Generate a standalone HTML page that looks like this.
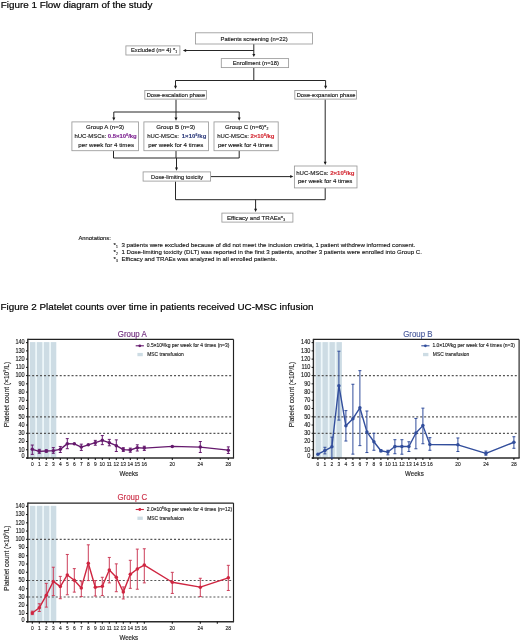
<!DOCTYPE html>
<html><head><meta charset="utf-8"><style>
html,body{margin:0;padding:0;background:#fff;}
body{width:520px;height:642px;overflow:hidden;}
svg{display:block;font-family:"Liberation Sans", sans-serif;filter:blur(0.35px);}
</style></head><body>
<svg width="520" height="642" viewBox="0 0 520 642">
<text x="0.8" y="8.4" font-size="9.85" fill="#000" stroke="#000" stroke-width="0.2">Figure 1 Flow diagram of the study</text>
<line x1="253.8" y1="44" x2="253.8" y2="55" stroke="#262626" stroke-width="1.0"/>
<path d="M252.3,53.9 L255.3,53.9 L253.8,57.1 Z" fill="#1a1a1a"/>
<line x1="253.8" y1="50.5" x2="185" y2="50.5" stroke="#262626" stroke-width="1.0"/>
<path d="M186.1,49.0 L186.1,52.0 L182.9,50.5 Z" fill="#1a1a1a"/>
<line x1="253.8" y1="68" x2="253.8" y2="80.5" stroke="#262626" stroke-width="1.0"/>
<line x1="175.5" y1="80.5" x2="325.6" y2="80.5" stroke="#262626" stroke-width="1.0"/>
<line x1="175.5" y1="80.5" x2="175.5" y2="87" stroke="#262626" stroke-width="1.0"/>
<path d="M174.0,85.7 L177.0,85.7 L175.5,88.9 Z" fill="#1a1a1a"/>
<line x1="325.6" y1="80.5" x2="325.6" y2="87" stroke="#262626" stroke-width="1.0"/>
<path d="M324.1,85.7 L327.1,85.7 L325.6,88.9 Z" fill="#1a1a1a"/>
<line x1="176" y1="99.5" x2="176" y2="112" stroke="#262626" stroke-width="1.0"/>
<line x1="113.8" y1="112" x2="239.2" y2="112" stroke="#262626" stroke-width="1.0"/>
<line x1="113.8" y1="112" x2="113.8" y2="119" stroke="#262626" stroke-width="1.0"/>
<path d="M112.3,117.5 L115.3,117.5 L113.8,120.7 Z" fill="#1a1a1a"/>
<line x1="176" y1="112" x2="176" y2="119" stroke="#262626" stroke-width="1.0"/>
<path d="M174.5,117.5 L177.5,117.5 L176,120.7 Z" fill="#1a1a1a"/>
<line x1="239.2" y1="112" x2="239.2" y2="119" stroke="#262626" stroke-width="1.0"/>
<path d="M237.7,117.5 L240.7,117.5 L239.2,120.7 Z" fill="#1a1a1a"/>
<line x1="113.5" y1="151" x2="113.5" y2="158" stroke="#262626" stroke-width="1.0"/>
<line x1="176" y1="151" x2="176" y2="158" stroke="#262626" stroke-width="1.0"/>
<line x1="239.2" y1="151" x2="239.2" y2="158" stroke="#262626" stroke-width="1.0"/>
<line x1="113.5" y1="158" x2="239.2" y2="158" stroke="#262626" stroke-width="1.0"/>
<line x1="176.5" y1="158" x2="176.5" y2="169" stroke="#262626" stroke-width="1.0"/>
<path d="M175.0,167.50000000000003 L178.0,167.50000000000003 L176.5,170.70000000000002 Z" fill="#1a1a1a"/>
<line x1="211" y1="176.6" x2="291" y2="176.6" stroke="#262626" stroke-width="1.0"/>
<path d="M290.2,175.1 L290.2,178.1 L293.4,176.6 Z" fill="#1a1a1a"/>
<line x1="325.2" y1="99.5" x2="325.2" y2="163" stroke="#262626" stroke-width="1.0"/>
<path d="M323.7,161.70000000000002 L326.7,161.70000000000002 L325.2,164.9 Z" fill="#1a1a1a"/>
<line x1="175.5" y1="181.5" x2="175.5" y2="199.7" stroke="#262626" stroke-width="1.0"/>
<line x1="325.2" y1="188" x2="325.2" y2="199.7" stroke="#262626" stroke-width="1.0"/>
<line x1="175.5" y1="199.7" x2="325.2" y2="199.7" stroke="#262626" stroke-width="1.0"/>
<line x1="255.6" y1="199.7" x2="255.6" y2="210" stroke="#262626" stroke-width="1.0"/>
<path d="M254.1,208.70000000000002 L257.1,208.70000000000002 L255.6,211.9 Z" fill="#1a1a1a"/>
<rect x="195.5" y="32.8" width="117" height="11.2" fill="#fff" stroke="#9a9a9a" stroke-width="0.85"/>
<text x="220.5" y="40.5" font-size="5.88" fill="#161616" letter-spacing="0.001" stroke="#161616" stroke-width="0.14">Patients screening (n=22)</text>
<rect x="125.9" y="45.9" width="54.0" height="9.1" fill="#fff" stroke="#9a9a9a" stroke-width="0.85"/>
<text x="131" y="52.2" font-size="5.76" fill="#161616" stroke="#161616" stroke-width="0.14">Excluded (n= 4) *<tspan font-size="3.4" dy="0.8">1</tspan></text>
<rect x="221.3" y="58.6" width="67.3" height="9.0" fill="#fff" stroke="#9a9a9a" stroke-width="0.85"/>
<text x="232.7" y="65.4" font-size="5.8" fill="#161616" letter-spacing="0.002" stroke="#161616" stroke-width="0.14">Enrollment (n=18)</text>
<rect x="144.8" y="90.5" width="61.6" height="8.6" fill="#fff" stroke="#9a9a9a" stroke-width="0.85"/>
<text x="146.7" y="97.1" font-size="5.75" fill="#161616" letter-spacing="0.000" stroke="#161616" stroke-width="0.14">Dose-escalation phase</text>
<rect x="294.8" y="90.5" width="61.6" height="8.6" fill="#fff" stroke="#9a9a9a" stroke-width="0.85"/>
<text x="296.7" y="97.1" font-size="5.75" fill="#161616" letter-spacing="-0.001" stroke="#161616" stroke-width="0.14">Dose-expansion phase</text>
<rect x="71.9" y="121.9" width="66.6" height="28.8" fill="#fff" stroke="#9a9a9a" stroke-width="0.85"/>
<text x="86" y="128.8" font-size="6.1" fill="#161616" stroke="#161616" stroke-width="0.14">Group A (n=3)</text>
<text x="74.5" y="138.1" font-size="5.95" fill="#161616" stroke="#161616" stroke-width="0.14">hUC-MSCs: <tspan dx="0" letter-spacing="0" fill="#7f2592" stroke="#7f2592" font-weight="bold">0.5×10<tspan font-size="3.6" dy="-2.0">6</tspan><tspan dy="2.0">/kg</tspan></tspan></text>
<text x="78.3" y="147.2" font-size="6.1" fill="#161616" letter-spacing="0.041" stroke="#161616" stroke-width="0.14">per week for 4 times</text>
<rect x="143.9" y="121.9" width="64.6" height="28.8" fill="#fff" stroke="#9a9a9a" stroke-width="0.85"/>
<text x="156.3" y="128.8" font-size="6.1" fill="#161616" stroke="#161616" stroke-width="0.14">Group B (n=3)</text>
<text x="147.2" y="138.1" font-size="5.95" fill="#161616" stroke="#161616" stroke-width="0.14">hUC-MSCs: <tspan dx="1.2" letter-spacing="0.1" fill="#303d7c" stroke="#303d7c" font-weight="bold">1×10<tspan font-size="3.6" dy="-2.0">6</tspan><tspan dy="2.0">/kg</tspan></tspan></text>
<text x="148.3" y="147.2" font-size="6.1" fill="#161616" letter-spacing="0.004" stroke="#161616" stroke-width="0.14">per week for 4 times</text>
<rect x="214.0" y="121.9" width="64.2" height="28.8" fill="#fff" stroke="#9a9a9a" stroke-width="0.85"/>
<text x="225" y="128.8" font-size="6.1" fill="#161616" stroke="#161616" stroke-width="0.14">Group C (n=6)*<tspan font-size="3.4" dy="0.8">2</tspan></text>
<text x="217.2" y="138.1" font-size="5.95" fill="#161616" stroke="#161616" stroke-width="0.14">hUC-MSCs: <tspan dx="0" letter-spacing="0" fill="#d42b35" stroke="#d42b35" font-weight="bold">2×10<tspan font-size="3.6" dy="-2.0">6</tspan><tspan dy="2.0">/kg</tspan></tspan></text>
<text x="217.9" y="147.2" font-size="6.1" fill="#161616" letter-spacing="-0.012" stroke="#161616" stroke-width="0.14">per week for 4 times</text>
<rect x="143.1" y="171.9" width="67.5" height="9.2" fill="#fff" stroke="#9a9a9a" stroke-width="0.85"/>
<text x="151.1" y="178.8" font-size="5.72" fill="#161616" letter-spacing="-0.001" stroke="#161616" stroke-width="0.14">Dose-limiting toxicity</text>
<rect x="294.4" y="166.0" width="62.6" height="21.9" fill="#fff" stroke="#9a9a9a" stroke-width="0.85"/>
<text x="296.2" y="174.8" font-size="6.05" fill="#161616" stroke="#161616" stroke-width="0.14">hUC-MSCs: <tspan fill="#d42b35" stroke="#d42b35" font-weight="bold">2×10<tspan font-size="3.6" dy="-2.0">6</tspan><tspan dy="2.0">/kg</tspan></tspan></text>
<text x="298" y="183.1" font-size="6.06" fill="#161616" letter-spacing="-0.003" stroke="#161616" stroke-width="0.14">per week for 4 times</text>
<rect x="221.9" y="213.1" width="71.0" height="9.0" fill="#fff" stroke="#9a9a9a" stroke-width="0.85"/>
<text x="226.9" y="219.8" font-size="6.1" fill="#161616" stroke="#161616" stroke-width="0.14">Efficacy and TRAEs*<tspan font-size="3.4" dy="0.8">3</tspan></text>
<text x="78.4" y="240.1" font-size="5.85" fill="#161616" stroke="#161616" stroke-width="0.14">Annotations:</text>
<text x="113.6" y="247.4" font-size="6.14" fill="#161616" stroke="#161616" stroke-width="0.14">*<tspan font-size="3.3" dy="0.7">1</tspan></text>
<text x="121.4" y="247.4" font-size="6.14" fill="#161616" stroke="#161616" stroke-width="0.14">3 patients were excluded because of did not meet the inclusion cretiria, 1 patient withdrew informed consent.</text>
<text x="113.6" y="254.35" font-size="6.14" fill="#161616" stroke="#161616" stroke-width="0.14">*<tspan font-size="3.3" dy="0.7">2</tspan></text>
<text x="121.4" y="254.35" font-size="6.14" fill="#161616" stroke="#161616" stroke-width="0.14">1 Dose-limiting toxicity (DLT) was reported in the first 3 patients, another 3 patients were enrolled into Group C.</text>
<text x="113.6" y="261.3" font-size="6.14" fill="#161616" stroke="#161616" stroke-width="0.14">*<tspan font-size="3.3" dy="0.7">3</tspan></text>
<text x="121.4" y="261.3" font-size="6.14" fill="#161616" stroke="#161616" stroke-width="0.14">Efficacy and TRAEs was analyzed in all enrolled patients.</text>
<text x="0.6" y="310.1" font-size="9.85" fill="#000" stroke="#000" stroke-width="0.2">Figure 2 Platelet counts over time in patients received UC-MSC infusion</text>
<rect x="30.0" y="342.14" width="26.3" height="115.86" fill="#eef7fa" stroke="none" stroke-width="1"/>
<rect x="29.95" y="342.14" width="5.3" height="115.86" fill="#cddce4" stroke="none" stroke-width="1"/>
<rect x="36.95" y="342.14" width="5.3" height="115.86" fill="#cddce4" stroke="none" stroke-width="1"/>
<rect x="43.95" y="342.14" width="5.3" height="115.86" fill="#cddce4" stroke="none" stroke-width="1"/>
<rect x="50.95" y="342.14" width="5.3" height="115.86" fill="#cddce4" stroke="none" stroke-width="1"/>
<line x1="28.2" y1="375.6" x2="231.3" y2="375.6" stroke="#565656" stroke-width="1.2" stroke-dasharray="2.0 1.941"/>
<line x1="28.2" y1="416.8" x2="231.3" y2="416.8" stroke="#565656" stroke-width="1.2" stroke-dasharray="2.0 1.941"/>
<line x1="28.2" y1="433.28" x2="231.3" y2="433.28" stroke="#565656" stroke-width="1.2" stroke-dasharray="2.0 1.941"/>
<line x1="27.8" y1="339.4" x2="233.5" y2="339.4" stroke="#222" stroke-width="1.15"/>
<line x1="233.5" y1="339.4" x2="233.5" y2="458.1" stroke="#222" stroke-width="1.15"/>
<line x1="27.8" y1="338.85" x2="27.8" y2="458.8" stroke="#2a2a2a" stroke-width="1.4"/>
<line x1="26.3" y1="458.1" x2="234.05" y2="458.1" stroke="#2a2a2a" stroke-width="1.5"/>
<line x1="26.0" y1="458.0" x2="27.8" y2="458.0" stroke="#111" stroke-width="1.0"/>
<text transform="translate(24.7,458.35) scale(0.88,1.0)" font-size="6.3" fill="#222" text-anchor="end" stroke="#222" stroke-width="0.14">0</text>
<line x1="26.0" y1="449.76" x2="27.8" y2="449.76" stroke="#111" stroke-width="1.0"/>
<text transform="translate(24.7,451.56) scale(0.88,1.0)" font-size="6.3" fill="#222" text-anchor="end" stroke="#222" stroke-width="0.14">10</text>
<line x1="26.0" y1="441.52" x2="27.8" y2="441.52" stroke="#111" stroke-width="1.0"/>
<text transform="translate(24.7,443.32) scale(0.88,1.0)" font-size="6.3" fill="#222" text-anchor="end" stroke="#222" stroke-width="0.14">20</text>
<line x1="26.0" y1="433.28" x2="27.8" y2="433.28" stroke="#111" stroke-width="1.0"/>
<text transform="translate(24.7,435.08) scale(0.88,1.0)" font-size="6.3" fill="#222" text-anchor="end" stroke="#222" stroke-width="0.14">30</text>
<line x1="26.0" y1="425.04" x2="27.8" y2="425.04" stroke="#111" stroke-width="1.0"/>
<text transform="translate(24.7,426.84) scale(0.88,1.0)" font-size="6.3" fill="#222" text-anchor="end" stroke="#222" stroke-width="0.14">40</text>
<line x1="26.0" y1="416.8" x2="27.8" y2="416.8" stroke="#111" stroke-width="1.0"/>
<text transform="translate(24.7,418.6) scale(0.88,1.0)" font-size="6.3" fill="#222" text-anchor="end" stroke="#222" stroke-width="0.14">50</text>
<line x1="26.0" y1="408.56" x2="27.8" y2="408.56" stroke="#111" stroke-width="1.0"/>
<text transform="translate(24.7,410.36) scale(0.88,1.0)" font-size="6.3" fill="#222" text-anchor="end" stroke="#222" stroke-width="0.14">60</text>
<line x1="26.0" y1="400.32" x2="27.8" y2="400.32" stroke="#111" stroke-width="1.0"/>
<text transform="translate(24.7,402.12) scale(0.88,1.0)" font-size="6.3" fill="#222" text-anchor="end" stroke="#222" stroke-width="0.14">70</text>
<line x1="26.0" y1="392.08" x2="27.8" y2="392.08" stroke="#111" stroke-width="1.0"/>
<text transform="translate(24.7,393.88) scale(0.88,1.0)" font-size="6.3" fill="#222" text-anchor="end" stroke="#222" stroke-width="0.14">80</text>
<line x1="26.0" y1="383.84" x2="27.8" y2="383.84" stroke="#111" stroke-width="1.0"/>
<text transform="translate(24.7,385.64) scale(0.88,1.0)" font-size="6.3" fill="#222" text-anchor="end" stroke="#222" stroke-width="0.14">90</text>
<line x1="26.0" y1="375.6" x2="27.8" y2="375.6" stroke="#111" stroke-width="1.0"/>
<text transform="translate(24.7,377.4) scale(0.88,1.0)" font-size="6.3" fill="#222" text-anchor="end" stroke="#222" stroke-width="0.14">100</text>
<line x1="26.0" y1="367.36" x2="27.8" y2="367.36" stroke="#111" stroke-width="1.0"/>
<text transform="translate(24.7,369.16) scale(0.88,1.0)" font-size="6.3" fill="#222" text-anchor="end" stroke="#222" stroke-width="0.14">110</text>
<line x1="26.0" y1="359.12" x2="27.8" y2="359.12" stroke="#111" stroke-width="1.0"/>
<text transform="translate(24.7,360.92) scale(0.88,1.0)" font-size="6.3" fill="#222" text-anchor="end" stroke="#222" stroke-width="0.14">120</text>
<line x1="26.0" y1="350.88" x2="27.8" y2="350.88" stroke="#111" stroke-width="1.0"/>
<text transform="translate(24.7,352.68) scale(0.88,1.0)" font-size="6.3" fill="#222" text-anchor="end" stroke="#222" stroke-width="0.14">130</text>
<line x1="26.0" y1="342.64" x2="27.8" y2="342.64" stroke="#111" stroke-width="1.0"/>
<text transform="translate(24.7,344.44) scale(0.88,1.0)" font-size="6.3" fill="#222" text-anchor="end" stroke="#222" stroke-width="0.14">140</text>
<line x1="32.3" y1="458.1" x2="32.3" y2="460.1" stroke="#111" stroke-width="1.05"/>
<text transform="translate(32.3,466.0) scale(0.8,1.0)" font-size="6.1" fill="#222" text-anchor="middle" stroke="#222" stroke-width="0.14">0</text>
<line x1="39.3" y1="458.1" x2="39.3" y2="460.1" stroke="#111" stroke-width="1.05"/>
<text transform="translate(39.3,466.0) scale(0.8,1.0)" font-size="6.1" fill="#222" text-anchor="middle" stroke="#222" stroke-width="0.14">1</text>
<line x1="46.3" y1="458.1" x2="46.3" y2="460.1" stroke="#111" stroke-width="1.05"/>
<text transform="translate(46.3,466.0) scale(0.8,1.0)" font-size="6.1" fill="#222" text-anchor="middle" stroke="#222" stroke-width="0.14">2</text>
<line x1="53.3" y1="458.1" x2="53.3" y2="460.1" stroke="#111" stroke-width="1.05"/>
<text transform="translate(53.3,466.0) scale(0.8,1.0)" font-size="6.1" fill="#222" text-anchor="middle" stroke="#222" stroke-width="0.14">3</text>
<line x1="60.3" y1="458.1" x2="60.3" y2="460.1" stroke="#111" stroke-width="1.05"/>
<text transform="translate(60.3,466.0) scale(0.8,1.0)" font-size="6.1" fill="#222" text-anchor="middle" stroke="#222" stroke-width="0.14">4</text>
<line x1="67.3" y1="458.1" x2="67.3" y2="460.1" stroke="#111" stroke-width="1.05"/>
<text transform="translate(67.3,466.0) scale(0.8,1.0)" font-size="6.1" fill="#222" text-anchor="middle" stroke="#222" stroke-width="0.14">5</text>
<line x1="74.3" y1="458.1" x2="74.3" y2="460.1" stroke="#111" stroke-width="1.05"/>
<text transform="translate(74.3,466.0) scale(0.8,1.0)" font-size="6.1" fill="#222" text-anchor="middle" stroke="#222" stroke-width="0.14">6</text>
<line x1="81.3" y1="458.1" x2="81.3" y2="460.1" stroke="#111" stroke-width="1.05"/>
<text transform="translate(81.3,466.0) scale(0.8,1.0)" font-size="6.1" fill="#222" text-anchor="middle" stroke="#222" stroke-width="0.14">7</text>
<line x1="88.3" y1="458.1" x2="88.3" y2="460.1" stroke="#111" stroke-width="1.05"/>
<text transform="translate(88.3,466.0) scale(0.8,1.0)" font-size="6.1" fill="#222" text-anchor="middle" stroke="#222" stroke-width="0.14">8</text>
<line x1="95.3" y1="458.1" x2="95.3" y2="460.1" stroke="#111" stroke-width="1.05"/>
<text transform="translate(95.3,466.0) scale(0.8,1.0)" font-size="6.1" fill="#222" text-anchor="middle" stroke="#222" stroke-width="0.14">9</text>
<line x1="102.3" y1="458.1" x2="102.3" y2="460.1" stroke="#111" stroke-width="1.05"/>
<text transform="translate(102.3,466.0) scale(0.8,1.0)" font-size="6.1" fill="#222" text-anchor="middle" stroke="#222" stroke-width="0.14">10</text>
<line x1="109.3" y1="458.1" x2="109.3" y2="460.1" stroke="#111" stroke-width="1.05"/>
<text transform="translate(109.3,466.0) scale(0.8,1.0)" font-size="6.1" fill="#222" text-anchor="middle" stroke="#222" stroke-width="0.14">11</text>
<line x1="116.3" y1="458.1" x2="116.3" y2="460.1" stroke="#111" stroke-width="1.05"/>
<text transform="translate(116.3,466.0) scale(0.8,1.0)" font-size="6.1" fill="#222" text-anchor="middle" stroke="#222" stroke-width="0.14">12</text>
<line x1="123.3" y1="458.1" x2="123.3" y2="460.1" stroke="#111" stroke-width="1.05"/>
<text transform="translate(123.3,466.0) scale(0.8,1.0)" font-size="6.1" fill="#222" text-anchor="middle" stroke="#222" stroke-width="0.14">13</text>
<line x1="130.3" y1="458.1" x2="130.3" y2="460.1" stroke="#111" stroke-width="1.05"/>
<text transform="translate(130.3,466.0) scale(0.8,1.0)" font-size="6.1" fill="#222" text-anchor="middle" stroke="#222" stroke-width="0.14">14</text>
<line x1="137.3" y1="458.1" x2="137.3" y2="460.1" stroke="#111" stroke-width="1.05"/>
<text transform="translate(137.3,466.0) scale(0.8,1.0)" font-size="6.1" fill="#222" text-anchor="middle" stroke="#222" stroke-width="0.14">15</text>
<line x1="144.3" y1="458.1" x2="144.3" y2="460.1" stroke="#111" stroke-width="1.05"/>
<text transform="translate(144.3,466.0) scale(0.8,1.0)" font-size="6.1" fill="#222" text-anchor="middle" stroke="#222" stroke-width="0.14">16</text>
<line x1="172.3" y1="458.1" x2="172.3" y2="460.1" stroke="#111" stroke-width="1.05"/>
<text transform="translate(172.3,466.0) scale(0.8,1.0)" font-size="6.1" fill="#222" text-anchor="middle" stroke="#222" stroke-width="0.14">20</text>
<line x1="200.3" y1="458.1" x2="200.3" y2="460.1" stroke="#111" stroke-width="1.05"/>
<text transform="translate(200.3,466.0) scale(0.8,1.0)" font-size="6.1" fill="#222" text-anchor="middle" stroke="#222" stroke-width="0.14">24</text>
<line x1="228.3" y1="458.1" x2="228.3" y2="460.1" stroke="#111" stroke-width="1.05"/>
<text transform="translate(228.3,466.0) scale(0.8,1.0)" font-size="6.1" fill="#222" text-anchor="middle" stroke="#222" stroke-width="0.14">28</text>
<text transform="translate(128.8,475.8) scale(0.93,1.0)" font-size="6.6" fill="#222" text-anchor="middle" stroke="#222" stroke-width="0.14">Weeks</text>
<text transform="translate(8.7,394.5) rotate(-90) scale(0.95,1)" font-size="7.0" fill="#222" stroke="#222" stroke-width="0.14" text-anchor="middle">Platelet count (×10<tspan font-size="4.2" dy="-2.4">9</tspan><tspan dy="2.4">/L)</tspan></text>
<text transform="translate(132.3,336.6) scale(0.94,1.0)" font-size="8.4" fill="#6e2a7c" text-anchor="middle" stroke="#6e2a7c" stroke-width="0.14">Group A</text>
<line x1="135.7" y1="345.8" x2="143.9" y2="345.8" stroke="#65196d" stroke-width="1.1"/>
<circle cx="139.8" cy="345.8" r="1.4" fill="#65196d"/>
<text transform="translate(146.8,347.3) scale(0.97,1.0)" font-size="5.1" fill="#222" stroke="#222" stroke-width="0.14">0.5×10<tspan font-size="3.3" dy="-1.7">6</tspan><tspan dy="1.7">/kg per week for 4 times (n=3)</tspan></text>
<rect x="137.4" y="352.9" width="5.4" height="3.3" fill="#cddce4" stroke="none" stroke-width="1"/>
<text transform="translate(147.2,355.9) scale(0.97,1.0)" font-size="5.1" fill="#222" stroke="#222" stroke-width="0.14">MSC transfusion</text>
<polyline points="32.3,449.35 39.3,451.33 46.3,451.0 53.3,450.67 60.3,449.35 67.3,443.66 74.3,443.83 81.3,447.12 88.3,444.82 95.3,442.67 102.3,440.37 109.3,442.67 116.3,445.64 123.3,449.6 130.3,450.01 137.3,447.7 144.3,448.11 172.3,446.38 200.3,447.12 228.3,450.17" fill="none" stroke="#65196d" stroke-width="1.4" stroke-linejoin="round"/>
<line x1="32.3" y1="445.06" x2="32.3" y2="454.37" stroke="#65196d" stroke-width="1.0"/>
<line x1="30.8" y1="445.06" x2="33.8" y2="445.06" stroke="#65196d" stroke-width="1.0"/>
<line x1="30.8" y1="454.37" x2="33.8" y2="454.37" stroke="#65196d" stroke-width="1.0"/>
<circle cx="32.3" cy="449.35" r="1.75" fill="#65196d"/>
<line x1="39.3" y1="449.35" x2="39.3" y2="453.3" stroke="#65196d" stroke-width="1.0"/>
<line x1="37.8" y1="449.35" x2="40.8" y2="449.35" stroke="#65196d" stroke-width="1.0"/>
<line x1="37.8" y1="453.3" x2="40.8" y2="453.3" stroke="#65196d" stroke-width="1.0"/>
<circle cx="39.3" cy="451.33" r="1.75" fill="#65196d"/>
<line x1="46.3" y1="449.76" x2="46.3" y2="452.23" stroke="#65196d" stroke-width="1.0"/>
<line x1="44.8" y1="449.76" x2="47.8" y2="449.76" stroke="#65196d" stroke-width="1.0"/>
<line x1="44.8" y1="452.23" x2="47.8" y2="452.23" stroke="#65196d" stroke-width="1.0"/>
<circle cx="46.3" cy="451.0" r="1.75" fill="#65196d"/>
<line x1="53.3" y1="447.62" x2="53.3" y2="453.3" stroke="#65196d" stroke-width="1.0"/>
<line x1="51.8" y1="447.62" x2="54.8" y2="447.62" stroke="#65196d" stroke-width="1.0"/>
<line x1="51.8" y1="453.3" x2="54.8" y2="453.3" stroke="#65196d" stroke-width="1.0"/>
<circle cx="53.3" cy="450.67" r="1.75" fill="#65196d"/>
<line x1="60.3" y1="446.46" x2="60.3" y2="452.48" stroke="#65196d" stroke-width="1.0"/>
<line x1="58.8" y1="446.46" x2="61.8" y2="446.46" stroke="#65196d" stroke-width="1.0"/>
<line x1="58.8" y1="452.48" x2="61.8" y2="452.48" stroke="#65196d" stroke-width="1.0"/>
<circle cx="60.3" cy="449.35" r="1.75" fill="#65196d"/>
<line x1="67.3" y1="438.64" x2="67.3" y2="448.69" stroke="#65196d" stroke-width="1.0"/>
<line x1="65.8" y1="438.64" x2="68.8" y2="438.64" stroke="#65196d" stroke-width="1.0"/>
<line x1="65.8" y1="448.69" x2="68.8" y2="448.69" stroke="#65196d" stroke-width="1.0"/>
<circle cx="67.3" cy="443.66" r="1.75" fill="#65196d"/>
<circle cx="74.3" cy="443.83" r="1.75" fill="#65196d"/>
<line x1="81.3" y1="444.16" x2="81.3" y2="450.42" stroke="#65196d" stroke-width="1.0"/>
<line x1="79.8" y1="444.16" x2="82.8" y2="444.16" stroke="#65196d" stroke-width="1.0"/>
<line x1="79.8" y1="450.42" x2="82.8" y2="450.42" stroke="#65196d" stroke-width="1.0"/>
<circle cx="81.3" cy="447.12" r="1.75" fill="#65196d"/>
<circle cx="88.3" cy="444.82" r="1.75" fill="#65196d"/>
<line x1="95.3" y1="440.37" x2="95.3" y2="445.23" stroke="#65196d" stroke-width="1.0"/>
<line x1="93.8" y1="440.37" x2="96.8" y2="440.37" stroke="#65196d" stroke-width="1.0"/>
<line x1="93.8" y1="445.23" x2="96.8" y2="445.23" stroke="#65196d" stroke-width="1.0"/>
<circle cx="95.3" cy="442.67" r="1.75" fill="#65196d"/>
<line x1="102.3" y1="435.59" x2="102.3" y2="444.65" stroke="#65196d" stroke-width="1.0"/>
<line x1="100.8" y1="435.59" x2="103.8" y2="435.59" stroke="#65196d" stroke-width="1.0"/>
<line x1="100.8" y1="444.65" x2="103.8" y2="444.65" stroke="#65196d" stroke-width="1.0"/>
<circle cx="102.3" cy="440.37" r="1.75" fill="#65196d"/>
<line x1="109.3" y1="439.38" x2="109.3" y2="445.8" stroke="#65196d" stroke-width="1.0"/>
<line x1="107.8" y1="439.38" x2="110.8" y2="439.38" stroke="#65196d" stroke-width="1.0"/>
<line x1="107.8" y1="445.8" x2="110.8" y2="445.8" stroke="#65196d" stroke-width="1.0"/>
<circle cx="109.3" cy="442.67" r="1.75" fill="#65196d"/>
<line x1="116.3" y1="439.87" x2="116.3" y2="451.49" stroke="#65196d" stroke-width="1.0"/>
<line x1="114.8" y1="439.87" x2="117.8" y2="439.87" stroke="#65196d" stroke-width="1.0"/>
<line x1="114.8" y1="451.49" x2="117.8" y2="451.49" stroke="#65196d" stroke-width="1.0"/>
<circle cx="116.3" cy="445.64" r="1.75" fill="#65196d"/>
<line x1="123.3" y1="447.7" x2="123.3" y2="451.41" stroke="#65196d" stroke-width="1.0"/>
<line x1="121.8" y1="447.7" x2="124.8" y2="447.7" stroke="#65196d" stroke-width="1.0"/>
<line x1="121.8" y1="451.41" x2="124.8" y2="451.41" stroke="#65196d" stroke-width="1.0"/>
<circle cx="123.3" cy="449.6" r="1.75" fill="#65196d"/>
<line x1="130.3" y1="448.11" x2="130.3" y2="452.23" stroke="#65196d" stroke-width="1.0"/>
<line x1="128.8" y1="448.11" x2="131.8" y2="448.11" stroke="#65196d" stroke-width="1.0"/>
<line x1="128.8" y1="452.23" x2="131.8" y2="452.23" stroke="#65196d" stroke-width="1.0"/>
<circle cx="130.3" cy="450.01" r="1.75" fill="#65196d"/>
<line x1="137.3" y1="444.82" x2="137.3" y2="451.0" stroke="#65196d" stroke-width="1.0"/>
<line x1="135.8" y1="444.82" x2="138.8" y2="444.82" stroke="#65196d" stroke-width="1.0"/>
<line x1="135.8" y1="451.0" x2="138.8" y2="451.0" stroke="#65196d" stroke-width="1.0"/>
<circle cx="137.3" cy="447.7" r="1.75" fill="#65196d"/>
<line x1="144.3" y1="446.22" x2="144.3" y2="450.42" stroke="#65196d" stroke-width="1.0"/>
<line x1="142.8" y1="446.22" x2="145.8" y2="446.22" stroke="#65196d" stroke-width="1.0"/>
<line x1="142.8" y1="450.42" x2="145.8" y2="450.42" stroke="#65196d" stroke-width="1.0"/>
<circle cx="144.3" cy="448.11" r="1.75" fill="#65196d"/>
<circle cx="172.3" cy="446.38" r="1.75" fill="#65196d"/>
<line x1="200.3" y1="441.52" x2="200.3" y2="452.48" stroke="#65196d" stroke-width="1.0"/>
<line x1="198.8" y1="441.52" x2="201.8" y2="441.52" stroke="#65196d" stroke-width="1.0"/>
<line x1="198.8" y1="452.48" x2="201.8" y2="452.48" stroke="#65196d" stroke-width="1.0"/>
<circle cx="200.3" cy="447.12" r="1.75" fill="#65196d"/>
<line x1="228.3" y1="446.88" x2="228.3" y2="453.47" stroke="#65196d" stroke-width="1.0"/>
<line x1="226.8" y1="446.88" x2="229.8" y2="446.88" stroke="#65196d" stroke-width="1.0"/>
<line x1="226.8" y1="453.47" x2="229.8" y2="453.47" stroke="#65196d" stroke-width="1.0"/>
<circle cx="228.3" cy="450.17" r="1.75" fill="#65196d"/>
<rect x="315.6" y="342.14" width="26.3" height="115.86" fill="#eef7fa" stroke="none" stroke-width="1"/>
<rect x="315.55" y="342.14" width="5.3" height="115.86" fill="#cddce4" stroke="none" stroke-width="1"/>
<rect x="322.55" y="342.14" width="5.3" height="115.86" fill="#cddce4" stroke="none" stroke-width="1"/>
<rect x="329.55" y="342.14" width="5.3" height="115.86" fill="#cddce4" stroke="none" stroke-width="1"/>
<rect x="336.55" y="342.14" width="5.3" height="115.86" fill="#cddce4" stroke="none" stroke-width="1"/>
<line x1="313.8" y1="375.6" x2="516.9" y2="375.6" stroke="#565656" stroke-width="1.2" stroke-dasharray="2.0 1.941"/>
<line x1="313.8" y1="416.8" x2="516.9" y2="416.8" stroke="#565656" stroke-width="1.2" stroke-dasharray="2.0 1.941"/>
<line x1="313.8" y1="433.28" x2="516.9" y2="433.28" stroke="#565656" stroke-width="1.2" stroke-dasharray="2.0 1.941"/>
<line x1="313.4" y1="339.4" x2="519.1" y2="339.4" stroke="#222" stroke-width="1.15"/>
<line x1="519.1" y1="339.4" x2="519.1" y2="458.1" stroke="#222" stroke-width="1.15"/>
<line x1="313.4" y1="338.85" x2="313.4" y2="458.8" stroke="#2a2a2a" stroke-width="1.4"/>
<line x1="311.9" y1="458.1" x2="519.65" y2="458.1" stroke="#2a2a2a" stroke-width="1.5"/>
<line x1="311.6" y1="458.0" x2="313.4" y2="458.0" stroke="#111" stroke-width="1.0"/>
<text transform="translate(310.3,458.35) scale(0.88,1.0)" font-size="6.3" fill="#222" text-anchor="end" stroke="#222" stroke-width="0.14">0</text>
<line x1="311.6" y1="449.76" x2="313.4" y2="449.76" stroke="#111" stroke-width="1.0"/>
<text transform="translate(310.3,451.56) scale(0.88,1.0)" font-size="6.3" fill="#222" text-anchor="end" stroke="#222" stroke-width="0.14">10</text>
<line x1="311.6" y1="441.52" x2="313.4" y2="441.52" stroke="#111" stroke-width="1.0"/>
<text transform="translate(310.3,443.32) scale(0.88,1.0)" font-size="6.3" fill="#222" text-anchor="end" stroke="#222" stroke-width="0.14">20</text>
<line x1="311.6" y1="433.28" x2="313.4" y2="433.28" stroke="#111" stroke-width="1.0"/>
<text transform="translate(310.3,435.08) scale(0.88,1.0)" font-size="6.3" fill="#222" text-anchor="end" stroke="#222" stroke-width="0.14">30</text>
<line x1="311.6" y1="425.04" x2="313.4" y2="425.04" stroke="#111" stroke-width="1.0"/>
<text transform="translate(310.3,426.84) scale(0.88,1.0)" font-size="6.3" fill="#222" text-anchor="end" stroke="#222" stroke-width="0.14">40</text>
<line x1="311.6" y1="416.8" x2="313.4" y2="416.8" stroke="#111" stroke-width="1.0"/>
<text transform="translate(310.3,418.6) scale(0.88,1.0)" font-size="6.3" fill="#222" text-anchor="end" stroke="#222" stroke-width="0.14">50</text>
<line x1="311.6" y1="408.56" x2="313.4" y2="408.56" stroke="#111" stroke-width="1.0"/>
<text transform="translate(310.3,410.36) scale(0.88,1.0)" font-size="6.3" fill="#222" text-anchor="end" stroke="#222" stroke-width="0.14">60</text>
<line x1="311.6" y1="400.32" x2="313.4" y2="400.32" stroke="#111" stroke-width="1.0"/>
<text transform="translate(310.3,402.12) scale(0.88,1.0)" font-size="6.3" fill="#222" text-anchor="end" stroke="#222" stroke-width="0.14">70</text>
<line x1="311.6" y1="392.08" x2="313.4" y2="392.08" stroke="#111" stroke-width="1.0"/>
<text transform="translate(310.3,393.88) scale(0.88,1.0)" font-size="6.3" fill="#222" text-anchor="end" stroke="#222" stroke-width="0.14">80</text>
<line x1="311.6" y1="383.84" x2="313.4" y2="383.84" stroke="#111" stroke-width="1.0"/>
<text transform="translate(310.3,385.64) scale(0.88,1.0)" font-size="6.3" fill="#222" text-anchor="end" stroke="#222" stroke-width="0.14">90</text>
<line x1="311.6" y1="375.6" x2="313.4" y2="375.6" stroke="#111" stroke-width="1.0"/>
<text transform="translate(310.3,377.4) scale(0.88,1.0)" font-size="6.3" fill="#222" text-anchor="end" stroke="#222" stroke-width="0.14">100</text>
<line x1="311.6" y1="367.36" x2="313.4" y2="367.36" stroke="#111" stroke-width="1.0"/>
<text transform="translate(310.3,369.16) scale(0.88,1.0)" font-size="6.3" fill="#222" text-anchor="end" stroke="#222" stroke-width="0.14">110</text>
<line x1="311.6" y1="359.12" x2="313.4" y2="359.12" stroke="#111" stroke-width="1.0"/>
<text transform="translate(310.3,360.92) scale(0.88,1.0)" font-size="6.3" fill="#222" text-anchor="end" stroke="#222" stroke-width="0.14">120</text>
<line x1="311.6" y1="350.88" x2="313.4" y2="350.88" stroke="#111" stroke-width="1.0"/>
<text transform="translate(310.3,352.68) scale(0.88,1.0)" font-size="6.3" fill="#222" text-anchor="end" stroke="#222" stroke-width="0.14">130</text>
<line x1="311.6" y1="342.64" x2="313.4" y2="342.64" stroke="#111" stroke-width="1.0"/>
<text transform="translate(310.3,344.44) scale(0.88,1.0)" font-size="6.3" fill="#222" text-anchor="end" stroke="#222" stroke-width="0.14">140</text>
<line x1="317.9" y1="458.1" x2="317.9" y2="460.1" stroke="#111" stroke-width="1.05"/>
<text transform="translate(317.9,466.0) scale(0.8,1.0)" font-size="6.1" fill="#222" text-anchor="middle" stroke="#222" stroke-width="0.14">0</text>
<line x1="324.9" y1="458.1" x2="324.9" y2="460.1" stroke="#111" stroke-width="1.05"/>
<text transform="translate(324.9,466.0) scale(0.8,1.0)" font-size="6.1" fill="#222" text-anchor="middle" stroke="#222" stroke-width="0.14">1</text>
<line x1="331.9" y1="458.1" x2="331.9" y2="460.1" stroke="#111" stroke-width="1.05"/>
<text transform="translate(331.9,466.0) scale(0.8,1.0)" font-size="6.1" fill="#222" text-anchor="middle" stroke="#222" stroke-width="0.14">2</text>
<line x1="338.9" y1="458.1" x2="338.9" y2="460.1" stroke="#111" stroke-width="1.05"/>
<text transform="translate(338.9,466.0) scale(0.8,1.0)" font-size="6.1" fill="#222" text-anchor="middle" stroke="#222" stroke-width="0.14">3</text>
<line x1="345.9" y1="458.1" x2="345.9" y2="460.1" stroke="#111" stroke-width="1.05"/>
<text transform="translate(345.9,466.0) scale(0.8,1.0)" font-size="6.1" fill="#222" text-anchor="middle" stroke="#222" stroke-width="0.14">4</text>
<line x1="352.9" y1="458.1" x2="352.9" y2="460.1" stroke="#111" stroke-width="1.05"/>
<text transform="translate(352.9,466.0) scale(0.8,1.0)" font-size="6.1" fill="#222" text-anchor="middle" stroke="#222" stroke-width="0.14">5</text>
<line x1="359.9" y1="458.1" x2="359.9" y2="460.1" stroke="#111" stroke-width="1.05"/>
<text transform="translate(359.9,466.0) scale(0.8,1.0)" font-size="6.1" fill="#222" text-anchor="middle" stroke="#222" stroke-width="0.14">6</text>
<line x1="366.9" y1="458.1" x2="366.9" y2="460.1" stroke="#111" stroke-width="1.05"/>
<text transform="translate(366.9,466.0) scale(0.8,1.0)" font-size="6.1" fill="#222" text-anchor="middle" stroke="#222" stroke-width="0.14">7</text>
<line x1="373.9" y1="458.1" x2="373.9" y2="460.1" stroke="#111" stroke-width="1.05"/>
<text transform="translate(373.9,466.0) scale(0.8,1.0)" font-size="6.1" fill="#222" text-anchor="middle" stroke="#222" stroke-width="0.14">8</text>
<line x1="380.9" y1="458.1" x2="380.9" y2="460.1" stroke="#111" stroke-width="1.05"/>
<text transform="translate(380.9,466.0) scale(0.8,1.0)" font-size="6.1" fill="#222" text-anchor="middle" stroke="#222" stroke-width="0.14">9</text>
<line x1="387.9" y1="458.1" x2="387.9" y2="460.1" stroke="#111" stroke-width="1.05"/>
<text transform="translate(387.9,466.0) scale(0.8,1.0)" font-size="6.1" fill="#222" text-anchor="middle" stroke="#222" stroke-width="0.14">10</text>
<line x1="394.9" y1="458.1" x2="394.9" y2="460.1" stroke="#111" stroke-width="1.05"/>
<text transform="translate(394.9,466.0) scale(0.8,1.0)" font-size="6.1" fill="#222" text-anchor="middle" stroke="#222" stroke-width="0.14">11</text>
<line x1="401.9" y1="458.1" x2="401.9" y2="460.1" stroke="#111" stroke-width="1.05"/>
<text transform="translate(401.9,466.0) scale(0.8,1.0)" font-size="6.1" fill="#222" text-anchor="middle" stroke="#222" stroke-width="0.14">12</text>
<line x1="408.9" y1="458.1" x2="408.9" y2="460.1" stroke="#111" stroke-width="1.05"/>
<text transform="translate(408.9,466.0) scale(0.8,1.0)" font-size="6.1" fill="#222" text-anchor="middle" stroke="#222" stroke-width="0.14">13</text>
<line x1="415.9" y1="458.1" x2="415.9" y2="460.1" stroke="#111" stroke-width="1.05"/>
<text transform="translate(415.9,466.0) scale(0.8,1.0)" font-size="6.1" fill="#222" text-anchor="middle" stroke="#222" stroke-width="0.14">14</text>
<line x1="422.9" y1="458.1" x2="422.9" y2="460.1" stroke="#111" stroke-width="1.05"/>
<text transform="translate(422.9,466.0) scale(0.8,1.0)" font-size="6.1" fill="#222" text-anchor="middle" stroke="#222" stroke-width="0.14">15</text>
<line x1="429.9" y1="458.1" x2="429.9" y2="460.1" stroke="#111" stroke-width="1.05"/>
<text transform="translate(429.9,466.0) scale(0.8,1.0)" font-size="6.1" fill="#222" text-anchor="middle" stroke="#222" stroke-width="0.14">16</text>
<line x1="457.9" y1="458.1" x2="457.9" y2="460.1" stroke="#111" stroke-width="1.05"/>
<text transform="translate(457.9,466.0) scale(0.8,1.0)" font-size="6.1" fill="#222" text-anchor="middle" stroke="#222" stroke-width="0.14">20</text>
<line x1="485.9" y1="458.1" x2="485.9" y2="460.1" stroke="#111" stroke-width="1.05"/>
<text transform="translate(485.9,466.0) scale(0.8,1.0)" font-size="6.1" fill="#222" text-anchor="middle" stroke="#222" stroke-width="0.14">24</text>
<line x1="513.9" y1="458.1" x2="513.9" y2="460.1" stroke="#111" stroke-width="1.05"/>
<text transform="translate(513.9,466.0) scale(0.8,1.0)" font-size="6.1" fill="#222" text-anchor="middle" stroke="#222" stroke-width="0.14">28</text>
<text transform="translate(414.4,475.8) scale(0.93,1.0)" font-size="6.6" fill="#222" text-anchor="middle" stroke="#222" stroke-width="0.14">Weeks</text>
<text transform="translate(294.3,394.5) rotate(-90) scale(0.95,1)" font-size="7.0" fill="#222" stroke="#222" stroke-width="0.14" text-anchor="middle">Platelet count (×10<tspan font-size="4.2" dy="-2.4">9</tspan><tspan dy="2.4">/L)</tspan></text>
<text transform="translate(417.9,336.6) scale(0.94,1.0)" font-size="8.4" fill="#47589a" text-anchor="middle" stroke="#47589a" stroke-width="0.14">Group B</text>
<line x1="421.3" y1="345.8" x2="429.5" y2="345.8" stroke="#324e9c" stroke-width="1.1"/>
<circle cx="425.40000000000003" cy="345.8" r="1.4" fill="#324e9c"/>
<text transform="translate(432.4,347.3) scale(0.97,1.0)" font-size="5.1" fill="#222" stroke="#222" stroke-width="0.14">1.0×10<tspan font-size="3.3" dy="-1.7">6</tspan><tspan dy="1.7">/kg per week for 4 times (n=3)</tspan></text>
<rect x="423.0" y="352.9" width="5.4" height="3.3" fill="#cddce4" stroke="none" stroke-width="1"/>
<text transform="translate(432.8,355.9) scale(0.97,1.0)" font-size="5.1" fill="#222" stroke="#222" stroke-width="0.14">MSC transfusion</text>
<polyline points="317.9,454.13 324.9,450.58 331.9,446.79 338.9,385.74 345.9,425.86 352.9,418.7 359.9,407.82 366.9,431.88 373.9,441.77 380.9,450.75 387.9,452.07 394.9,446.46 401.9,446.46 408.9,446.46 415.9,433.03 422.9,425.62 429.9,444.49 457.9,444.82 485.9,453.39 513.9,442.26" fill="none" stroke="#324e9c" stroke-width="1.4" stroke-linejoin="round"/>
<circle cx="317.9" cy="454.13" r="1.75" fill="#324e9c"/>
<line x1="324.9" y1="447.29" x2="324.9" y2="453.88" stroke="#324e9c" stroke-width="1.0"/>
<line x1="323.4" y1="447.29" x2="326.4" y2="447.29" stroke="#324e9c" stroke-width="1.0"/>
<line x1="323.4" y1="453.88" x2="326.4" y2="453.88" stroke="#324e9c" stroke-width="1.0"/>
<circle cx="324.9" cy="450.58" r="1.75" fill="#324e9c"/>
<line x1="331.9" y1="437.15" x2="331.9" y2="458.0" stroke="#324e9c" stroke-width="1.0"/>
<line x1="330.4" y1="437.15" x2="333.4" y2="437.15" stroke="#324e9c" stroke-width="1.0"/>
<line x1="330.4" y1="458.0" x2="333.4" y2="458.0" stroke="#324e9c" stroke-width="1.0"/>
<circle cx="331.9" cy="446.79" r="1.75" fill="#324e9c"/>
<line x1="338.9" y1="351.21" x2="338.9" y2="420.1" stroke="#324e9c" stroke-width="1.0"/>
<line x1="337.4" y1="351.21" x2="340.4" y2="351.21" stroke="#324e9c" stroke-width="1.0"/>
<line x1="337.4" y1="420.1" x2="340.4" y2="420.1" stroke="#324e9c" stroke-width="1.0"/>
<circle cx="338.9" cy="385.74" r="1.75" fill="#324e9c"/>
<line x1="345.9" y1="410.62" x2="345.9" y2="441.03" stroke="#324e9c" stroke-width="1.0"/>
<line x1="344.4" y1="410.62" x2="347.4" y2="410.62" stroke="#324e9c" stroke-width="1.0"/>
<line x1="344.4" y1="441.03" x2="347.4" y2="441.03" stroke="#324e9c" stroke-width="1.0"/>
<circle cx="345.9" cy="425.86" r="1.75" fill="#324e9c"/>
<line x1="352.9" y1="384.25" x2="352.9" y2="454.13" stroke="#324e9c" stroke-width="1.0"/>
<line x1="351.4" y1="384.25" x2="354.4" y2="384.25" stroke="#324e9c" stroke-width="1.0"/>
<line x1="351.4" y1="454.13" x2="354.4" y2="454.13" stroke="#324e9c" stroke-width="1.0"/>
<circle cx="352.9" cy="418.7" r="1.75" fill="#324e9c"/>
<line x1="359.9" y1="370.66" x2="359.9" y2="445.64" stroke="#324e9c" stroke-width="1.0"/>
<line x1="358.4" y1="370.66" x2="361.4" y2="370.66" stroke="#324e9c" stroke-width="1.0"/>
<line x1="358.4" y1="445.64" x2="361.4" y2="445.64" stroke="#324e9c" stroke-width="1.0"/>
<circle cx="359.9" cy="407.82" r="1.75" fill="#324e9c"/>
<line x1="366.9" y1="411.03" x2="366.9" y2="452.56" stroke="#324e9c" stroke-width="1.0"/>
<line x1="365.4" y1="411.03" x2="368.4" y2="411.03" stroke="#324e9c" stroke-width="1.0"/>
<line x1="365.4" y1="452.56" x2="368.4" y2="452.56" stroke="#324e9c" stroke-width="1.0"/>
<circle cx="366.9" cy="431.88" r="1.75" fill="#324e9c"/>
<line x1="373.9" y1="433.28" x2="373.9" y2="450.25" stroke="#324e9c" stroke-width="1.0"/>
<line x1="372.4" y1="433.28" x2="375.4" y2="433.28" stroke="#324e9c" stroke-width="1.0"/>
<line x1="372.4" y1="450.25" x2="375.4" y2="450.25" stroke="#324e9c" stroke-width="1.0"/>
<circle cx="373.9" cy="441.77" r="1.75" fill="#324e9c"/>
<line x1="380.9" y1="449.76" x2="380.9" y2="451.82" stroke="#324e9c" stroke-width="1.0"/>
<line x1="379.4" y1="449.76" x2="382.4" y2="449.76" stroke="#324e9c" stroke-width="1.0"/>
<line x1="379.4" y1="451.82" x2="382.4" y2="451.82" stroke="#324e9c" stroke-width="1.0"/>
<circle cx="380.9" cy="450.75" r="1.75" fill="#324e9c"/>
<line x1="387.9" y1="450.25" x2="387.9" y2="454.87" stroke="#324e9c" stroke-width="1.0"/>
<line x1="386.4" y1="450.25" x2="389.4" y2="450.25" stroke="#324e9c" stroke-width="1.0"/>
<line x1="386.4" y1="454.87" x2="389.4" y2="454.87" stroke="#324e9c" stroke-width="1.0"/>
<circle cx="387.9" cy="452.07" r="1.75" fill="#324e9c"/>
<line x1="394.9" y1="439.71" x2="394.9" y2="453.72" stroke="#324e9c" stroke-width="1.0"/>
<line x1="393.4" y1="439.71" x2="396.4" y2="439.71" stroke="#324e9c" stroke-width="1.0"/>
<line x1="393.4" y1="453.72" x2="396.4" y2="453.72" stroke="#324e9c" stroke-width="1.0"/>
<circle cx="394.9" cy="446.46" r="1.75" fill="#324e9c"/>
<line x1="401.9" y1="439.71" x2="401.9" y2="454.21" stroke="#324e9c" stroke-width="1.0"/>
<line x1="400.4" y1="439.71" x2="403.4" y2="439.71" stroke="#324e9c" stroke-width="1.0"/>
<line x1="400.4" y1="454.21" x2="403.4" y2="454.21" stroke="#324e9c" stroke-width="1.0"/>
<circle cx="401.9" cy="446.46" r="1.75" fill="#324e9c"/>
<line x1="408.9" y1="441.77" x2="408.9" y2="451.49" stroke="#324e9c" stroke-width="1.0"/>
<line x1="407.4" y1="441.77" x2="410.4" y2="441.77" stroke="#324e9c" stroke-width="1.0"/>
<line x1="407.4" y1="451.49" x2="410.4" y2="451.49" stroke="#324e9c" stroke-width="1.0"/>
<circle cx="408.9" cy="446.46" r="1.75" fill="#324e9c"/>
<line x1="415.9" y1="418.45" x2="415.9" y2="448.77" stroke="#324e9c" stroke-width="1.0"/>
<line x1="414.4" y1="418.45" x2="417.4" y2="418.45" stroke="#324e9c" stroke-width="1.0"/>
<line x1="414.4" y1="448.77" x2="417.4" y2="448.77" stroke="#324e9c" stroke-width="1.0"/>
<circle cx="415.9" cy="433.03" r="1.75" fill="#324e9c"/>
<line x1="422.9" y1="408.15" x2="422.9" y2="443.74" stroke="#324e9c" stroke-width="1.0"/>
<line x1="421.4" y1="408.15" x2="424.4" y2="408.15" stroke="#324e9c" stroke-width="1.0"/>
<line x1="421.4" y1="443.74" x2="424.4" y2="443.74" stroke="#324e9c" stroke-width="1.0"/>
<circle cx="422.9" cy="425.62" r="1.75" fill="#324e9c"/>
<line x1="429.9" y1="437.65" x2="429.9" y2="450.25" stroke="#324e9c" stroke-width="1.0"/>
<line x1="428.4" y1="437.65" x2="431.4" y2="437.65" stroke="#324e9c" stroke-width="1.0"/>
<line x1="428.4" y1="450.25" x2="431.4" y2="450.25" stroke="#324e9c" stroke-width="1.0"/>
<circle cx="429.9" cy="444.49" r="1.75" fill="#324e9c"/>
<line x1="457.9" y1="437.98" x2="457.9" y2="451.49" stroke="#324e9c" stroke-width="1.0"/>
<line x1="456.4" y1="437.98" x2="459.4" y2="437.98" stroke="#324e9c" stroke-width="1.0"/>
<line x1="456.4" y1="451.49" x2="459.4" y2="451.49" stroke="#324e9c" stroke-width="1.0"/>
<circle cx="457.9" cy="444.82" r="1.75" fill="#324e9c"/>
<line x1="485.9" y1="451.08" x2="485.9" y2="455.2" stroke="#324e9c" stroke-width="1.0"/>
<line x1="484.4" y1="451.08" x2="487.4" y2="451.08" stroke="#324e9c" stroke-width="1.0"/>
<line x1="484.4" y1="455.2" x2="487.4" y2="455.2" stroke="#324e9c" stroke-width="1.0"/>
<circle cx="485.9" cy="453.39" r="1.75" fill="#324e9c"/>
<line x1="513.9" y1="436.74" x2="513.9" y2="448.28" stroke="#324e9c" stroke-width="1.0"/>
<line x1="512.4" y1="436.74" x2="515.4" y2="436.74" stroke="#324e9c" stroke-width="1.0"/>
<line x1="512.4" y1="448.28" x2="515.4" y2="448.28" stroke="#324e9c" stroke-width="1.0"/>
<circle cx="513.9" cy="442.26" r="1.75" fill="#324e9c"/>
<rect x="30.0" y="505.84" width="26.3" height="115.86" fill="#eef7fa" stroke="none" stroke-width="1"/>
<rect x="29.95" y="505.84" width="5.3" height="115.86" fill="#cddce4" stroke="none" stroke-width="1"/>
<rect x="36.95" y="505.84" width="5.3" height="115.86" fill="#cddce4" stroke="none" stroke-width="1"/>
<rect x="43.95" y="505.84" width="5.3" height="115.86" fill="#cddce4" stroke="none" stroke-width="1"/>
<rect x="50.95" y="505.84" width="5.3" height="115.86" fill="#cddce4" stroke="none" stroke-width="1"/>
<line x1="28.2" y1="539.3" x2="231.3" y2="539.3" stroke="#565656" stroke-width="1.2" stroke-dasharray="2.0 1.941"/>
<line x1="28.2" y1="580.5" x2="231.3" y2="580.5" stroke="#565656" stroke-width="1.2" stroke-dasharray="2.0 1.941"/>
<line x1="28.2" y1="596.98" x2="231.3" y2="596.98" stroke="#565656" stroke-width="1.2" stroke-dasharray="2.0 1.941"/>
<line x1="27.8" y1="503.1" x2="233.5" y2="503.1" stroke="#222" stroke-width="1.15"/>
<line x1="233.5" y1="503.1" x2="233.5" y2="621.8" stroke="#222" stroke-width="1.15"/>
<line x1="27.8" y1="502.55" x2="27.8" y2="622.5" stroke="#2a2a2a" stroke-width="1.4"/>
<line x1="26.3" y1="621.8" x2="234.05" y2="621.8" stroke="#2a2a2a" stroke-width="1.5"/>
<line x1="26.0" y1="621.7" x2="27.8" y2="621.7" stroke="#111" stroke-width="1.0"/>
<text transform="translate(24.7,622.05) scale(0.88,1.0)" font-size="6.3" fill="#222" text-anchor="end" stroke="#222" stroke-width="0.14">0</text>
<line x1="26.0" y1="613.46" x2="27.8" y2="613.46" stroke="#111" stroke-width="1.0"/>
<text transform="translate(24.7,615.26) scale(0.88,1.0)" font-size="6.3" fill="#222" text-anchor="end" stroke="#222" stroke-width="0.14">10</text>
<line x1="26.0" y1="605.22" x2="27.8" y2="605.22" stroke="#111" stroke-width="1.0"/>
<text transform="translate(24.7,607.02) scale(0.88,1.0)" font-size="6.3" fill="#222" text-anchor="end" stroke="#222" stroke-width="0.14">20</text>
<line x1="26.0" y1="596.98" x2="27.8" y2="596.98" stroke="#111" stroke-width="1.0"/>
<text transform="translate(24.7,598.78) scale(0.88,1.0)" font-size="6.3" fill="#222" text-anchor="end" stroke="#222" stroke-width="0.14">30</text>
<line x1="26.0" y1="588.74" x2="27.8" y2="588.74" stroke="#111" stroke-width="1.0"/>
<text transform="translate(24.7,590.54) scale(0.88,1.0)" font-size="6.3" fill="#222" text-anchor="end" stroke="#222" stroke-width="0.14">40</text>
<line x1="26.0" y1="580.5" x2="27.8" y2="580.5" stroke="#111" stroke-width="1.0"/>
<text transform="translate(24.7,582.3) scale(0.88,1.0)" font-size="6.3" fill="#222" text-anchor="end" stroke="#222" stroke-width="0.14">50</text>
<line x1="26.0" y1="572.26" x2="27.8" y2="572.26" stroke="#111" stroke-width="1.0"/>
<text transform="translate(24.7,574.06) scale(0.88,1.0)" font-size="6.3" fill="#222" text-anchor="end" stroke="#222" stroke-width="0.14">60</text>
<line x1="26.0" y1="564.02" x2="27.8" y2="564.02" stroke="#111" stroke-width="1.0"/>
<text transform="translate(24.7,565.82) scale(0.88,1.0)" font-size="6.3" fill="#222" text-anchor="end" stroke="#222" stroke-width="0.14">70</text>
<line x1="26.0" y1="555.78" x2="27.8" y2="555.78" stroke="#111" stroke-width="1.0"/>
<text transform="translate(24.7,557.58) scale(0.88,1.0)" font-size="6.3" fill="#222" text-anchor="end" stroke="#222" stroke-width="0.14">80</text>
<line x1="26.0" y1="547.54" x2="27.8" y2="547.54" stroke="#111" stroke-width="1.0"/>
<text transform="translate(24.7,549.34) scale(0.88,1.0)" font-size="6.3" fill="#222" text-anchor="end" stroke="#222" stroke-width="0.14">90</text>
<line x1="26.0" y1="539.3" x2="27.8" y2="539.3" stroke="#111" stroke-width="1.0"/>
<text transform="translate(24.7,541.1) scale(0.88,1.0)" font-size="6.3" fill="#222" text-anchor="end" stroke="#222" stroke-width="0.14">100</text>
<line x1="26.0" y1="531.06" x2="27.8" y2="531.06" stroke="#111" stroke-width="1.0"/>
<text transform="translate(24.7,532.86) scale(0.88,1.0)" font-size="6.3" fill="#222" text-anchor="end" stroke="#222" stroke-width="0.14">110</text>
<line x1="26.0" y1="522.82" x2="27.8" y2="522.82" stroke="#111" stroke-width="1.0"/>
<text transform="translate(24.7,524.62) scale(0.88,1.0)" font-size="6.3" fill="#222" text-anchor="end" stroke="#222" stroke-width="0.14">120</text>
<line x1="26.0" y1="514.58" x2="27.8" y2="514.58" stroke="#111" stroke-width="1.0"/>
<text transform="translate(24.7,516.38) scale(0.88,1.0)" font-size="6.3" fill="#222" text-anchor="end" stroke="#222" stroke-width="0.14">130</text>
<line x1="26.0" y1="506.34" x2="27.8" y2="506.34" stroke="#111" stroke-width="1.0"/>
<text transform="translate(24.7,508.14) scale(0.88,1.0)" font-size="6.3" fill="#222" text-anchor="end" stroke="#222" stroke-width="0.14">140</text>
<line x1="32.3" y1="621.8" x2="32.3" y2="623.8" stroke="#111" stroke-width="1.05"/>
<text transform="translate(32.3,629.7) scale(0.8,1.0)" font-size="6.1" fill="#222" text-anchor="middle" stroke="#222" stroke-width="0.14">0</text>
<line x1="39.3" y1="621.8" x2="39.3" y2="623.8" stroke="#111" stroke-width="1.05"/>
<text transform="translate(39.3,629.7) scale(0.8,1.0)" font-size="6.1" fill="#222" text-anchor="middle" stroke="#222" stroke-width="0.14">1</text>
<line x1="46.3" y1="621.8" x2="46.3" y2="623.8" stroke="#111" stroke-width="1.05"/>
<text transform="translate(46.3,629.7) scale(0.8,1.0)" font-size="6.1" fill="#222" text-anchor="middle" stroke="#222" stroke-width="0.14">2</text>
<line x1="53.3" y1="621.8" x2="53.3" y2="623.8" stroke="#111" stroke-width="1.05"/>
<text transform="translate(53.3,629.7) scale(0.8,1.0)" font-size="6.1" fill="#222" text-anchor="middle" stroke="#222" stroke-width="0.14">3</text>
<line x1="60.3" y1="621.8" x2="60.3" y2="623.8" stroke="#111" stroke-width="1.05"/>
<text transform="translate(60.3,629.7) scale(0.8,1.0)" font-size="6.1" fill="#222" text-anchor="middle" stroke="#222" stroke-width="0.14">4</text>
<line x1="67.3" y1="621.8" x2="67.3" y2="623.8" stroke="#111" stroke-width="1.05"/>
<text transform="translate(67.3,629.7) scale(0.8,1.0)" font-size="6.1" fill="#222" text-anchor="middle" stroke="#222" stroke-width="0.14">5</text>
<line x1="74.3" y1="621.8" x2="74.3" y2="623.8" stroke="#111" stroke-width="1.05"/>
<text transform="translate(74.3,629.7) scale(0.8,1.0)" font-size="6.1" fill="#222" text-anchor="middle" stroke="#222" stroke-width="0.14">6</text>
<line x1="81.3" y1="621.8" x2="81.3" y2="623.8" stroke="#111" stroke-width="1.05"/>
<text transform="translate(81.3,629.7) scale(0.8,1.0)" font-size="6.1" fill="#222" text-anchor="middle" stroke="#222" stroke-width="0.14">7</text>
<line x1="88.3" y1="621.8" x2="88.3" y2="623.8" stroke="#111" stroke-width="1.05"/>
<text transform="translate(88.3,629.7) scale(0.8,1.0)" font-size="6.1" fill="#222" text-anchor="middle" stroke="#222" stroke-width="0.14">8</text>
<line x1="95.3" y1="621.8" x2="95.3" y2="623.8" stroke="#111" stroke-width="1.05"/>
<text transform="translate(95.3,629.7) scale(0.8,1.0)" font-size="6.1" fill="#222" text-anchor="middle" stroke="#222" stroke-width="0.14">9</text>
<line x1="102.3" y1="621.8" x2="102.3" y2="623.8" stroke="#111" stroke-width="1.05"/>
<text transform="translate(102.3,629.7) scale(0.8,1.0)" font-size="6.1" fill="#222" text-anchor="middle" stroke="#222" stroke-width="0.14">10</text>
<line x1="109.3" y1="621.8" x2="109.3" y2="623.8" stroke="#111" stroke-width="1.05"/>
<text transform="translate(109.3,629.7) scale(0.8,1.0)" font-size="6.1" fill="#222" text-anchor="middle" stroke="#222" stroke-width="0.14">11</text>
<line x1="116.3" y1="621.8" x2="116.3" y2="623.8" stroke="#111" stroke-width="1.05"/>
<text transform="translate(116.3,629.7) scale(0.8,1.0)" font-size="6.1" fill="#222" text-anchor="middle" stroke="#222" stroke-width="0.14">12</text>
<line x1="123.3" y1="621.8" x2="123.3" y2="623.8" stroke="#111" stroke-width="1.05"/>
<text transform="translate(123.3,629.7) scale(0.8,1.0)" font-size="6.1" fill="#222" text-anchor="middle" stroke="#222" stroke-width="0.14">13</text>
<line x1="130.3" y1="621.8" x2="130.3" y2="623.8" stroke="#111" stroke-width="1.05"/>
<text transform="translate(130.3,629.7) scale(0.8,1.0)" font-size="6.1" fill="#222" text-anchor="middle" stroke="#222" stroke-width="0.14">14</text>
<line x1="137.3" y1="621.8" x2="137.3" y2="623.8" stroke="#111" stroke-width="1.05"/>
<text transform="translate(137.3,629.7) scale(0.8,1.0)" font-size="6.1" fill="#222" text-anchor="middle" stroke="#222" stroke-width="0.14">15</text>
<line x1="144.3" y1="621.8" x2="144.3" y2="623.8" stroke="#111" stroke-width="1.05"/>
<text transform="translate(144.3,629.7) scale(0.8,1.0)" font-size="6.1" fill="#222" text-anchor="middle" stroke="#222" stroke-width="0.14">16</text>
<line x1="172.3" y1="621.8" x2="172.3" y2="623.8" stroke="#111" stroke-width="1.05"/>
<text transform="translate(172.3,629.7) scale(0.8,1.0)" font-size="6.1" fill="#222" text-anchor="middle" stroke="#222" stroke-width="0.14">20</text>
<line x1="200.3" y1="621.8" x2="200.3" y2="623.8" stroke="#111" stroke-width="1.05"/>
<text transform="translate(200.3,629.7) scale(0.8,1.0)" font-size="6.1" fill="#222" text-anchor="middle" stroke="#222" stroke-width="0.14">24</text>
<line x1="217.3" y1="621.8" x2="217.3" y2="623.8" stroke="#111" stroke-width="1.05"/>
<text transform="translate(228.3,629.7) scale(0.8,1.0)" font-size="6.1" fill="#222" text-anchor="middle" stroke="#222" stroke-width="0.14">28</text>
<text transform="translate(128.8,639.5) scale(0.93,1.0)" font-size="6.6" fill="#222" text-anchor="middle" stroke="#222" stroke-width="0.14">Weeks</text>
<text transform="translate(8.7,558.2) rotate(-90) scale(0.95,1)" font-size="7.0" fill="#222" stroke="#222" stroke-width="0.14" text-anchor="middle">Platelet count (×10<tspan font-size="4.2" dy="-2.4">9</tspan><tspan dy="2.4">/L)</tspan></text>
<text transform="translate(132.3,500.3) scale(0.94,1.0)" font-size="8.4" fill="#cc2f47" text-anchor="middle" stroke="#cc2f47" stroke-width="0.14">Group C</text>
<line x1="135.7" y1="509.5" x2="143.9" y2="509.5" stroke="#cf2540" stroke-width="1.1"/>
<circle cx="139.8" cy="509.5" r="1.4" fill="#cf2540"/>
<text transform="translate(146.8,511.0) scale(0.97,1.0)" font-size="5.1" fill="#222" stroke="#222" stroke-width="0.14">2.0×10<tspan font-size="3.3" dy="-1.7">6</tspan><tspan dy="1.7">/kg per week for 4 times (n=12)</tspan></text>
<rect x="137.4" y="516.6" width="5.4" height="3.3" fill="#cddce4" stroke="none" stroke-width="1"/>
<text transform="translate(147.2,519.6) scale(0.97,1.0)" font-size="5.1" fill="#222" stroke="#222" stroke-width="0.14">MSC transfusion</text>
<polyline points="32.3,613.05 39.3,607.69 46.3,595.33 53.3,581.41 60.3,586.6 67.3,574.98 74.3,580.25 81.3,587.92 88.3,563.2 95.3,587.26 102.3,586.35 109.3,569.95 116.3,577.29 123.3,592.12 130.3,574.32 137.3,568.96 144.3,565.09 172.3,582.23 200.3,587.17 228.3,577.86" fill="none" stroke="#cf2540" stroke-width="1.4" stroke-linejoin="round"/>
<line x1="32.3" y1="611.15" x2="32.3" y2="614.61" stroke="#cc3f5a" stroke-width="1.0"/>
<line x1="30.8" y1="611.15" x2="33.8" y2="611.15" stroke="#cc3f5a" stroke-width="1.0"/>
<line x1="30.8" y1="614.61" x2="33.8" y2="614.61" stroke="#cc3f5a" stroke-width="1.0"/>
<circle cx="32.3" cy="613.05" r="1.75" fill="#cf2540"/>
<line x1="39.3" y1="603.74" x2="39.3" y2="611.48" stroke="#cc3f5a" stroke-width="1.0"/>
<line x1="37.8" y1="603.74" x2="40.8" y2="603.74" stroke="#cc3f5a" stroke-width="1.0"/>
<line x1="37.8" y1="611.48" x2="40.8" y2="611.48" stroke="#cc3f5a" stroke-width="1.0"/>
<circle cx="39.3" cy="607.69" r="1.75" fill="#cf2540"/>
<line x1="46.3" y1="583.38" x2="46.3" y2="607.12" stroke="#cc3f5a" stroke-width="1.0"/>
<line x1="44.8" y1="583.38" x2="47.8" y2="583.38" stroke="#cc3f5a" stroke-width="1.0"/>
<line x1="44.8" y1="607.12" x2="47.8" y2="607.12" stroke="#cc3f5a" stroke-width="1.0"/>
<circle cx="46.3" cy="595.33" r="1.75" fill="#cf2540"/>
<line x1="53.3" y1="567.23" x2="53.3" y2="595.58" stroke="#cc3f5a" stroke-width="1.0"/>
<line x1="51.8" y1="567.23" x2="54.8" y2="567.23" stroke="#cc3f5a" stroke-width="1.0"/>
<line x1="51.8" y1="595.58" x2="54.8" y2="595.58" stroke="#cc3f5a" stroke-width="1.0"/>
<circle cx="53.3" cy="581.41" r="1.75" fill="#cf2540"/>
<line x1="60.3" y1="576.38" x2="60.3" y2="598.71" stroke="#cc3f5a" stroke-width="1.0"/>
<line x1="58.8" y1="576.38" x2="61.8" y2="576.38" stroke="#cc3f5a" stroke-width="1.0"/>
<line x1="58.8" y1="598.71" x2="61.8" y2="598.71" stroke="#cc3f5a" stroke-width="1.0"/>
<circle cx="60.3" cy="586.6" r="1.75" fill="#cf2540"/>
<line x1="67.3" y1="554.46" x2="67.3" y2="594.76" stroke="#cc3f5a" stroke-width="1.0"/>
<line x1="65.8" y1="554.46" x2="68.8" y2="554.46" stroke="#cc3f5a" stroke-width="1.0"/>
<line x1="65.8" y1="594.76" x2="68.8" y2="594.76" stroke="#cc3f5a" stroke-width="1.0"/>
<circle cx="67.3" cy="574.98" r="1.75" fill="#cf2540"/>
<line x1="74.3" y1="568.63" x2="74.3" y2="592.12" stroke="#cc3f5a" stroke-width="1.0"/>
<line x1="72.8" y1="568.63" x2="75.8" y2="568.63" stroke="#cc3f5a" stroke-width="1.0"/>
<line x1="72.8" y1="592.12" x2="75.8" y2="592.12" stroke="#cc3f5a" stroke-width="1.0"/>
<circle cx="74.3" cy="580.25" r="1.75" fill="#cf2540"/>
<line x1="81.3" y1="581.16" x2="81.3" y2="596.57" stroke="#cc3f5a" stroke-width="1.0"/>
<line x1="79.8" y1="581.16" x2="82.8" y2="581.16" stroke="#cc3f5a" stroke-width="1.0"/>
<line x1="79.8" y1="596.57" x2="82.8" y2="596.57" stroke="#cc3f5a" stroke-width="1.0"/>
<circle cx="81.3" cy="587.92" r="1.75" fill="#cf2540"/>
<line x1="88.3" y1="544.82" x2="88.3" y2="580.58" stroke="#cc3f5a" stroke-width="1.0"/>
<line x1="86.8" y1="544.82" x2="89.8" y2="544.82" stroke="#cc3f5a" stroke-width="1.0"/>
<line x1="86.8" y1="580.58" x2="89.8" y2="580.58" stroke="#cc3f5a" stroke-width="1.0"/>
<circle cx="88.3" cy="563.2" r="1.75" fill="#cf2540"/>
<line x1="95.3" y1="580.58" x2="95.3" y2="595.99" stroke="#cc3f5a" stroke-width="1.0"/>
<line x1="93.8" y1="580.58" x2="96.8" y2="580.58" stroke="#cc3f5a" stroke-width="1.0"/>
<line x1="93.8" y1="595.99" x2="96.8" y2="595.99" stroke="#cc3f5a" stroke-width="1.0"/>
<circle cx="95.3" cy="587.26" r="1.75" fill="#cf2540"/>
<line x1="102.3" y1="577.29" x2="102.3" y2="595.58" stroke="#cc3f5a" stroke-width="1.0"/>
<line x1="100.8" y1="577.29" x2="103.8" y2="577.29" stroke="#cc3f5a" stroke-width="1.0"/>
<line x1="100.8" y1="595.58" x2="103.8" y2="595.58" stroke="#cc3f5a" stroke-width="1.0"/>
<circle cx="102.3" cy="586.35" r="1.75" fill="#cf2540"/>
<line x1="109.3" y1="557.43" x2="109.3" y2="582.89" stroke="#cc3f5a" stroke-width="1.0"/>
<line x1="107.8" y1="557.43" x2="110.8" y2="557.43" stroke="#cc3f5a" stroke-width="1.0"/>
<line x1="107.8" y1="582.89" x2="110.8" y2="582.89" stroke="#cc3f5a" stroke-width="1.0"/>
<circle cx="109.3" cy="569.95" r="1.75" fill="#cf2540"/>
<line x1="116.3" y1="563.86" x2="116.3" y2="591.71" stroke="#cc3f5a" stroke-width="1.0"/>
<line x1="114.8" y1="563.86" x2="117.8" y2="563.86" stroke="#cc3f5a" stroke-width="1.0"/>
<line x1="114.8" y1="591.71" x2="117.8" y2="591.71" stroke="#cc3f5a" stroke-width="1.0"/>
<circle cx="116.3" cy="577.29" r="1.75" fill="#cf2540"/>
<line x1="123.3" y1="586.93" x2="123.3" y2="598.96" stroke="#cc3f5a" stroke-width="1.0"/>
<line x1="121.8" y1="586.93" x2="124.8" y2="586.93" stroke="#cc3f5a" stroke-width="1.0"/>
<line x1="121.8" y1="598.96" x2="124.8" y2="598.96" stroke="#cc3f5a" stroke-width="1.0"/>
<circle cx="123.3" cy="592.12" r="1.75" fill="#cf2540"/>
<line x1="130.3" y1="560.31" x2="130.3" y2="588.33" stroke="#cc3f5a" stroke-width="1.0"/>
<line x1="128.8" y1="560.31" x2="131.8" y2="560.31" stroke="#cc3f5a" stroke-width="1.0"/>
<line x1="128.8" y1="588.33" x2="131.8" y2="588.33" stroke="#cc3f5a" stroke-width="1.0"/>
<circle cx="130.3" cy="574.32" r="1.75" fill="#cf2540"/>
<line x1="137.3" y1="549.11" x2="137.3" y2="589.23" stroke="#cc3f5a" stroke-width="1.0"/>
<line x1="135.8" y1="549.11" x2="138.8" y2="549.11" stroke="#cc3f5a" stroke-width="1.0"/>
<line x1="135.8" y1="589.23" x2="138.8" y2="589.23" stroke="#cc3f5a" stroke-width="1.0"/>
<circle cx="137.3" cy="568.96" r="1.75" fill="#cf2540"/>
<line x1="144.3" y1="548.78" x2="144.3" y2="582.89" stroke="#cc3f5a" stroke-width="1.0"/>
<line x1="142.8" y1="548.78" x2="145.8" y2="548.78" stroke="#cc3f5a" stroke-width="1.0"/>
<line x1="142.8" y1="582.89" x2="145.8" y2="582.89" stroke="#cc3f5a" stroke-width="1.0"/>
<circle cx="144.3" cy="565.09" r="1.75" fill="#cf2540"/>
<line x1="172.3" y1="572.34" x2="172.3" y2="593.44" stroke="#cc3f5a" stroke-width="1.0"/>
<line x1="170.8" y1="572.34" x2="173.8" y2="572.34" stroke="#cc3f5a" stroke-width="1.0"/>
<line x1="170.8" y1="593.44" x2="173.8" y2="593.44" stroke="#cc3f5a" stroke-width="1.0"/>
<circle cx="172.3" cy="582.23" r="1.75" fill="#cf2540"/>
<line x1="200.3" y1="578.28" x2="200.3" y2="596.57" stroke="#cc3f5a" stroke-width="1.0"/>
<line x1="198.8" y1="578.28" x2="201.8" y2="578.28" stroke="#cc3f5a" stroke-width="1.0"/>
<line x1="198.8" y1="596.57" x2="201.8" y2="596.57" stroke="#cc3f5a" stroke-width="1.0"/>
<circle cx="200.3" cy="587.17" r="1.75" fill="#cf2540"/>
<line x1="228.3" y1="565.34" x2="228.3" y2="590.47" stroke="#cc3f5a" stroke-width="1.0"/>
<line x1="226.8" y1="565.34" x2="229.8" y2="565.34" stroke="#cc3f5a" stroke-width="1.0"/>
<line x1="226.8" y1="590.47" x2="229.8" y2="590.47" stroke="#cc3f5a" stroke-width="1.0"/>
<circle cx="228.3" cy="577.86" r="1.75" fill="#cf2540"/>
</svg>
</body></html>
